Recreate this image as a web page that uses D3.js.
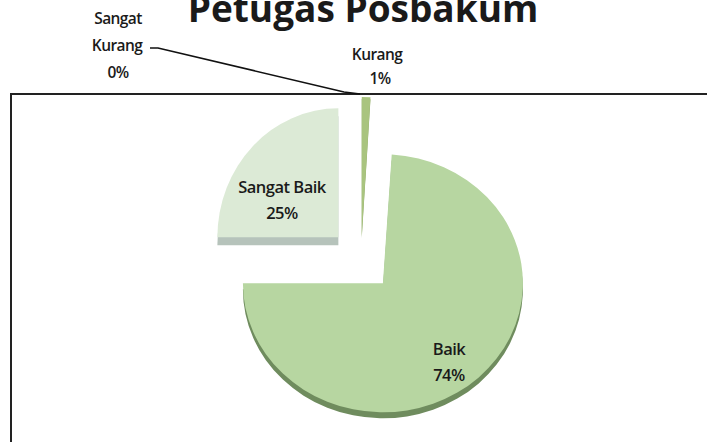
<!DOCTYPE html>
<html>
<head>
<meta charset="utf-8">
<script src="https://cdn.jsdelivr.net/npm/d3@7"></script>
<style>
  body { margin: 0; background: #fff; }
  svg { display: block; }
  text { font-family: "Open Sans", "Noto Sans", sans-serif; fill: #1a1a1a; }
</style>
</head>
<body>
<div id="chart"></div>
<script>
var title = 'Petugas Posbakum';
var categories = ['Sangat Kurang', 'Kurang', 'Baik', 'Sangat Baik'];
var values = [0, 1, 74, 25];
var percentLabels = ['0%', '1%', '74%', '25%'];

var width = 707;
var height = 442;

// per-slice look (explode distance, radii, colours)
var sliceStyle = {
  'Sangat Kurang': { explode: 24, rx: 139, ry: 139, depth: 0, fill: '#a9c47f', side: '#8da866' },
  'Kurang': { explode: 24, rx: 139, ry: 139, depth: 2, fill: '#a9c47f', side: '#8da866' },
  'Baik': { explode: 32, rx: 140, ry: 129, depth: 6, fill: '#b7d6a1', side: '#6f8c5e' },
  'Sangat Baik': { explode: 32, rx: 121, ry: 129, depth: 8, fill: '#dcead6', side: '#b6c3bb' },
};

var svg = d3.select('#chart')
  .append('svg')
  .attr('width', width)
  .attr('height', height);

// frame (top + left edge of the plot area)
svg.append('path')
  .attr('d', 'M11,442 L11,94 L707,94')
  .attr('fill', 'none')
  .attr('stroke', '#222')
  .attr('stroke-width', 2);

var center = [361, 260];

var pie = d3.pie().sort(null).value(d => d);
var arcs = pie(values);
var unitArc = d3.arc().innerRadius(0).outerRadius(1);

var slices = svg.append('g').attr('class', 'slices');

arcs.forEach(function (a, i) {
  var name = categories[i];
  var s = sliceStyle[name];
  if (a.endAngle - a.startAngle <= 0) return;
  var mid = (a.startAngle + a.endAngle) / 2;
  var vx = center[0] + s.explode * Math.sin(mid);
  var vy = center[1] - s.explode * Math.cos(mid);

  // side / shadow
  slices.append('path')
    .attr('d', unitArc(a))
    .attr('transform', `translate(${vx},${vy + s.depth}) scale(${s.rx},${s.ry})`)
    .attr('fill', s.side);

  slices.append('path')
    .attr('d', unitArc(a))
    .attr('transform', `translate(${vx},${vy}) scale(${s.rx},${s.ry})`)
    .attr('fill', s.fill);
});

// inside labels
var insideLabels = [
  { i: 3, x: 282, y: 193 },
  { i: 2, x: 449, y: 355 },
];
insideLabels.forEach(function (l) {
  var t = svg.append('text')
    .attr('x', l.x)
    .attr('y', l.y)
    .attr('text-anchor', 'middle')
    .attr('font-size', 16.5)
    .attr('font-weight', 600)
    .attr('letter-spacing', -0.5);
  t.append('tspan').attr('x', l.x).text(categories[l.i]);
  t.append('tspan').attr('x', l.x).attr('dy', 26).text(percentLabels[l.i]);
});

// outside labels
var kurang = svg.append('text')
  .attr('text-anchor', 'middle')
  .attr('font-size', 15.5)
  .attr('font-weight', 600)
  .attr('letter-spacing', -0.6);
kurang.append('tspan').attr('x', 377).attr('y', 60).text(categories[1]);
kurang.append('tspan').attr('x', 380).attr('y', 84).text(percentLabels[1]);

var sk = svg.append('text')
  .attr('text-anchor', 'middle')
  .attr('font-size', 15.5)
  .attr('font-weight', 600)
  .attr('letter-spacing', -0.6);
var skWords = categories[0].split(' ');
sk.append('tspan').attr('x', 118).attr('y', 24).text(skWords[0]);
sk.append('tspan').attr('x', 117).attr('y', 51).text(skWords[1]);
sk.append('tspan').attr('x', 118).attr('y', 78).text(percentLabels[0]);

// leader line for the 0% slice
svg.append('polyline')
  .attr('points', '150,48 158,48 344,92 360,94')
  .attr('fill', 'none')
  .attr('stroke', '#111')
  .attr('stroke-width', 1.6);

// title (cut off at the top like the scan)
svg.append('text')
  .attr('x', 363)
  .attr('y', 22)
  .attr('text-anchor', 'middle')
  .attr('font-size', 37)
  .attr('font-weight', 700)
  .text(title);
</script>
</body>
</html>
